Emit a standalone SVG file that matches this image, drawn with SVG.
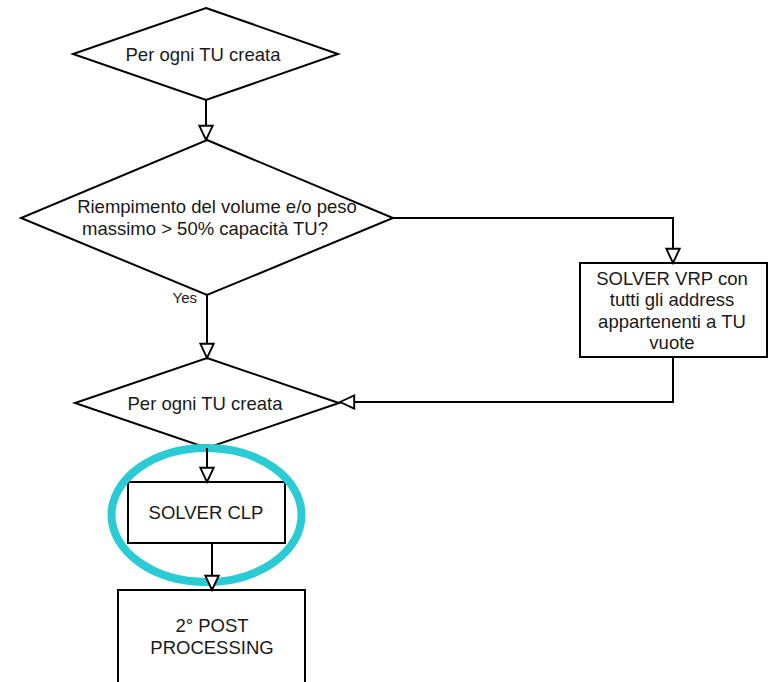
<svg xmlns="http://www.w3.org/2000/svg" width="769" height="682" viewBox="0 0 769 682">
<style>
.shape{fill:#fff;stroke:#000;stroke-width:2}
.t{font-family:"Liberation Sans",Arial,sans-serif;font-size:18.5px;fill:#1a1a1a;text-anchor:middle}
.lbl{font-family:"Liberation Sans",Arial,sans-serif;font-size:15px;fill:#1a1a1a;text-anchor:end}
.c{fill:none;stroke:#000;stroke-width:2}
</style>
<defs>
<marker id="ah" markerUnits="userSpaceOnUse" markerWidth="18" markerHeight="18" viewBox="-2 -2 19 18" refX="15" refY="7" orient="auto">
<path d="M0,0 L15,7 L0,14 Z" fill="#fff" stroke="#000" stroke-width="2"/>
</marker>
</defs>
<rect width="769" height="682" fill="#fff"/>
<g id="d1">
<polygon class="shape" points="206,8 338,54 206,100 73,54"/>
<text class="t" x="203" y="61">Per ogni TU creata</text>
</g>
<g id="d2">
<polygon class="shape" points="207,140 393,218 207,295 21,218"/>
<text class="t" x="217" y="213">Riempimento del volume e/o peso</text>
<text class="t" x="205" y="235">massimo &gt; 50% capacità TU?</text>
</g>
<g id="vrp">
<rect class="shape" x="580" y="263" width="187" height="94"/>
<text class="t" x="672" y="285">SOLVER VRP con</text>
<text class="t" x="672" y="306">tutti gli address</text>
<text class="t" x="672" y="328">appartenenti a TU</text>
<text class="t" x="672" y="349">vuote</text>
</g>
<g id="d3">
<polygon class="shape" points="207,358 339,403 207,448 75,403"/>
<text class="t" x="205" y="410">Per ogni TU creata</text>
</g>
<g id="clp">
<rect class="shape" x="128" y="482" width="157" height="61"/>
<text class="t" x="206" y="519">SOLVER CLP</text>
</g>
<g id="post">
<rect class="shape" x="118" y="590" width="187" height="100"/>
<text class="t" x="212" y="632">2° POST</text>
<text class="t" x="212" y="654">PROCESSING</text>
</g>
<g id="highlight">
<ellipse cx="206.5" cy="515" rx="95" ry="67" fill="none" stroke="#2BCBD6" stroke-width="8"/>
</g>
<g id="connectors">
<path class="c" d="M206,100 V140" marker-end="url(#ah)"/>
<path class="c" d="M207,295 V358" marker-end="url(#ah)"/>
<path class="c" d="M393,218 H673 V263" marker-end="url(#ah)"/>
<path class="c" d="M673,357 V402 H340" marker-end="url(#ah)"/>
<path class="c" d="M207,448 V482" marker-end="url(#ah)"/>
<path class="c" d="M212,543 V590" marker-end="url(#ah)"/>
<text class="lbl" x="197" y="303">Yes</text>
</g>
</svg>
